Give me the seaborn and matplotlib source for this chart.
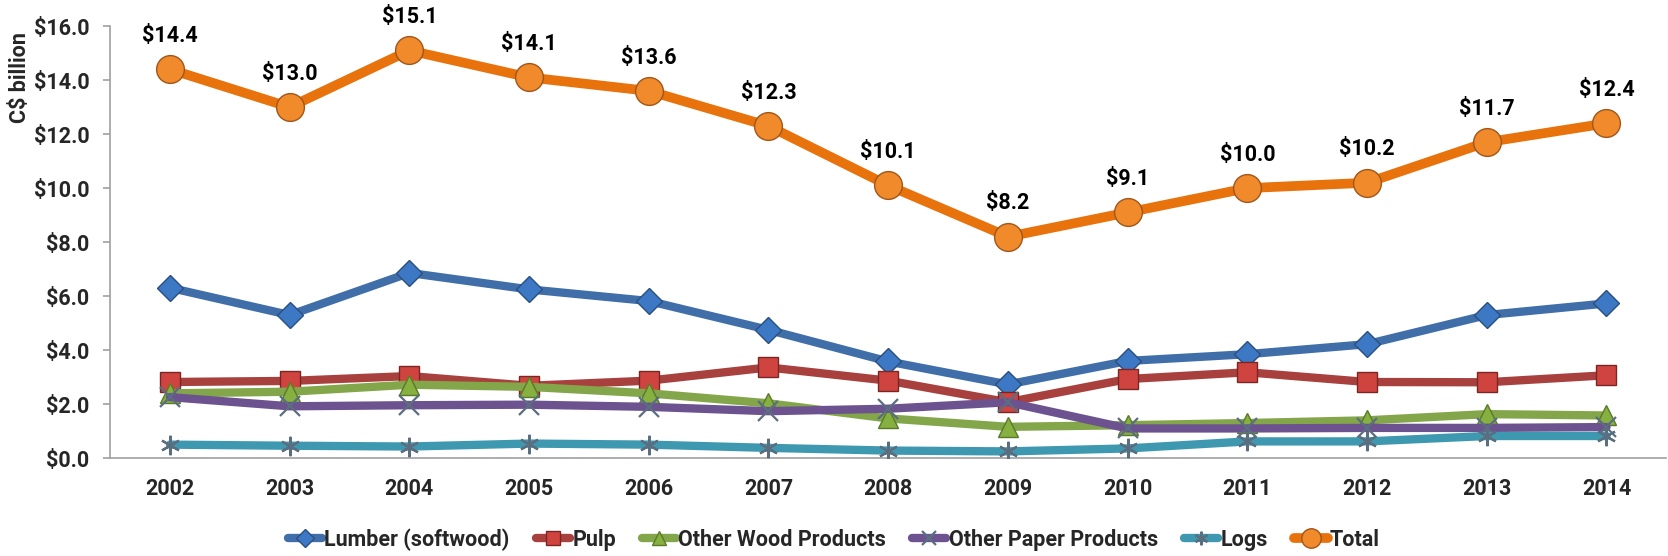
import matplotlib
matplotlib.use("Agg")
import matplotlib.pyplot as plt
import seaborn as sns
import pandas as pd
import numpy as np

years = [2002, 2003, 2004, 2005, 2006, 2007, 2008, 2009, 2010, 2011, 2012, 2013, 2014]
lumber = [6.31, 5.30, 6.86, 6.25, 5.82, 4.75, 3.58, 2.73, 3.60, 3.85, 4.22, 5.30, 5.73]
pulp = [2.82, 2.86, 3.04, 2.68, 2.87, 3.36, 2.87, 2.07, 2.93, 3.18, 2.82, 2.81, 3.07]
other_wood = [2.40, 2.46, 2.72, 2.64, 2.40, 2.03, 1.47, 1.16, 1.22, 1.30, 1.40, 1.63, 1.58]
other_paper = [2.26, 1.92, 1.96, 1.98, 1.90, 1.74, 1.83, 2.07, 1.10, 1.10, 1.12, 1.12, 1.15]
logs = [0.50, 0.46, 0.43, 0.54, 0.50, 0.38, 0.28, 0.25, 0.36, 0.62, 0.62, 0.82, 0.82]
total = [14.4, 13.0, 15.1, 14.1, 13.6, 12.3, 10.1, 8.2, 9.1, 10.0, 10.2, 11.7, 12.4]
series_names = ["Lumber (softwood)", "Pulp", "Other Wood Products", "Other Paper Products", "Logs", "Total"]
y_ticks = [0, 2, 4, 6, 8, 10, 12, 14, 16]

values = [lumber, pulp, other_wood, other_paper, logs, total]
df = pd.DataFrame({
    "year": np.tile(years, len(series_names)),
    "value": np.concatenate(values),
    "series": np.repeat(series_names, len(years)),
})

sns.set_style("white")
plt.rcParams["font.family"] = ["Liberation Sans Narrow", "Roboto", "DejaVu Sans"]
plt.rcParams["font.weight"] = "bold"
FS = 15.5

line_colors = ["#3F6EA8", "#A8403D", "#84A64A", "#6D5290", "#3E98B0", "#E8720C"]
face_colors = ["#3D78C4", "#D0443F", "#86B040", "#6F5496", "#4BACC6", "#F08A2A"]
edge_colors = ["#2A4F80", "#7A2624", "#5A7A2A", "#4A3466", "#3A7F93", "#A0561A"]
markers = ["D", "s", "^", "x", (6, 2, 0), "o"]
msizes = [13, 15, 15, 14, 14, 20]
lwidths = [6, 6, 6, 6, 6, 7]

fig = plt.figure(figsize=(16.68, 5.56), dpi=100)
ax = fig.add_axes([0.066, 0.176, 0.933, 0.777])

for i, name in enumerate(series_names):
    sub = df[df["series"] == name]
    mk = markers[i]
    is_line_marker = mk in ("x",) or isinstance(mk, tuple)
    sns.lineplot(
        data=sub, x="year", y="value", ax=ax, color=line_colors[i],
        linewidth=lwidths[i], marker=mk, markersize=msizes[i],
        markerfacecolor=face_colors[i],
        markeredgecolor=(edge_colors[i] if not is_line_marker else "#5A6E80"),
        markeredgewidth=(1.0 if not is_line_marker else 1.6),
        label=name, zorder=2 + i,
    )

for x, v in zip(years, total):
    ax.annotate(f"${v:.1f}", (x, v), xytext=(0, 24), textcoords="offset points",
                ha="center", va="center", fontsize=FS, fontweight="bold", color="black")

ax.set_xlim(years[0] - 0.5, years[-1] + 0.5)
ax.set_ylim(0, 16)
ax.set_yticks(y_ticks)
ax.set_yticklabels([f"${t:.1f}" for t in y_ticks], fontsize=FS, fontweight="bold")
ax.set_xticks(years)
ax.set_xticklabels([str(y) for y in years], fontsize=FS, fontweight="bold")
ax.set_xticks([y - 0.5 for y in years] + [years[-1] + 0.5], minor=True)
ax.tick_params(axis="x", which="major", length=0, pad=14)
ax.tick_params(axis="x", which="minor", length=6, color="#A0A0A0", width=1.2)
ax.tick_params(axis="y", which="major", length=5, color="#A0A0A0", width=1.2, pad=10, left=True)
ax.set_xlabel("")
ax.set_ylabel("")
for s in ["top", "right"]:
    ax.spines[s].set_visible(False)
for s in ["left", "bottom"]:
    ax.spines[s].set_color("#A0A0A0")
    ax.spines[s].set_linewidth(1.2)

fig.text(0.012, 0.86, "C$ billion", rotation=90, ha="center", va="center",
         fontsize=FS, fontweight="bold")

if ax.get_legend():
    ax.get_legend().remove()
handles, labels = ax.get_legend_handles_labels()
leg = fig.legend(handles, labels, loc="center", bbox_to_anchor=(0.5, 0.03), ncol=6,
                 frameon=False, fontsize=FS, handlelength=1.6, handletextpad=0.1,
                 columnspacing=1.2, markerscale=0.7)
for t in leg.get_texts():
    t.set_fontweight("bold")

fig.savefig("out.png", dpi=100)
